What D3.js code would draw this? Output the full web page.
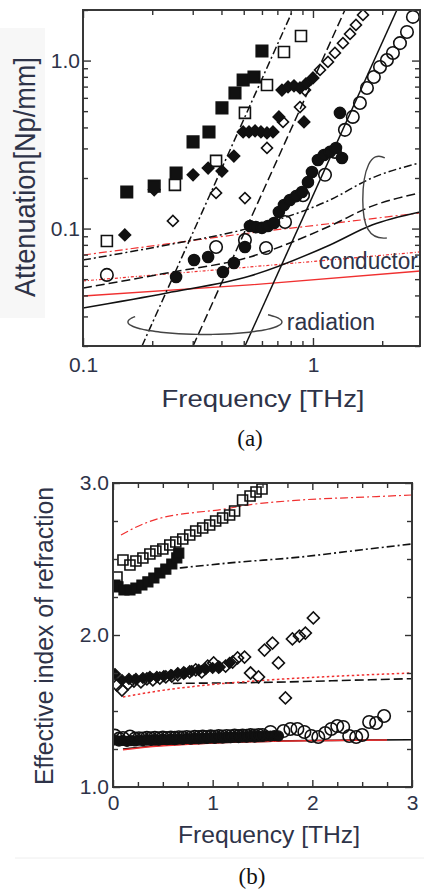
<!DOCTYPE html>
<html><head><meta charset="utf-8">
<script src="https://cdn.jsdelivr.net/npm/d3@7"></script>
<style>body{margin:0;background:#fff}svg{display:block}</style>
</head><body>
<svg id="c" width="424" height="893"></svg>
<script>
// ===================== Panel (a): attenuation vs frequency (log-log) =====================
const aXMajor = [0.1, 1];
const aXTickLabels = ["0.1", "1"];
const aXMinor = [0.2,0.3,0.4,0.5,0.6,0.7,0.8,0.9,2];
const aYMajor = [0.1, 1];
const aYTickLabels = ["0.1", "1.0"];
const aYMinor = [0.02,0.03,0.04,0.05,0.06,0.07,0.08,0.09,0.2,0.3,0.4,0.5,0.6,0.7,0.8,0.9,2];

const aFilledSquares = [[0.155,0.165],[0.204,0.179],[0.254,0.214],[0.301,0.328],[0.353,0.376],[0.402,0.523],[0.458,0.641],[0.497,0.766],[0.554,0.799],[0.600,1.14]];
const aOpenSquares = [[0.127,0.0844],[0.251,0.182],[0.379,0.253],[0.506,0.488],[0.631,0.716],[0.748,1.125],[0.887,1.40]];
const aFilledDiamonds = [[0.152,0.0916],[0.204,0.170],[0.301,0.209],[0.350,0.229],[0.402,0.220],[0.453,0.270],[0.497,0.376],[0.527,0.376],[0.560,0.381],[0.594,0.376],[0.631,0.371],[0.670,0.376],[0.711,0.462],[0.914,0.431],[0.733,0.668],[0.779,0.697],[0.827,0.707],[0.878,0.687],[0.932,0.726],[1.0,0.788]];
const aOpenDiamonds = [[0.246,0.111],[0.379,0.163],[0.506,0.152],[0.631,0.302],[0.741,0.431],[0.878,0.529],[0.923,0.668],[1.073,0.879],[1.162,0.981],[1.246,1.11],[1.35,1.27],[1.449,1.44],[1.538,1.63],[1.65,1.87]];
const aFilledCircles = [[0.254,0.0515],[0.304,0.065],[0.350,0.0678],[0.406,0.0552],[0.453,0.0624],[0.506,0.0777],[0.532,0.1036],[0.565,0.102],[0.600,0.101],[0.637,0.1036],[0.677,0.108],[0.711,0.1256],[0.748,0.138],[0.794,0.148],[0.844,0.156],[0.896,0.165],[0.951,0.189],[0.99,0.217],[1.051,0.256],[1.116,0.274],[1.185,0.286],[1.259,0.302],[1.337,0.263],[1.31,0.488]];
const aOpenCircles = [[0.127,0.053],[0.379,0.0777],[0.506,0.0855],[0.625,0.0766],[0.756,0.1095],[0.905,0.158],[1.128,0.209],[1.246,0.286],[1.377,0.387],[1.49,0.462],[1.60,0.559],[1.717,0.687],[1.84,0.799],[1.956,0.916],[2.097,1.008],[2.227,1.11],[2.389,1.27],[2.563,1.48],[2.72,1.82]];

// radiation loss lines (steep)
const aRadDashDot = [[0.1805,0.02],[0.818,2.0]];
const aRadDashed  = [[0.301,0.02],[1.377,2.0]];
const aRadSolid   = [[0.506,0.02],[2.317,2.0]];
// conductor loss lines
const aCondBlackDashDot = [[0.1,0.065],[0.232,0.0799],[0.532,0.101],[1.185,0.148],[1.805,0.200],[2.92,0.246]];
const aCondBlackDashed  = [[0.1,0.0443],[0.232,0.0544],[0.532,0.0678],[1.185,0.1036],[1.805,0.136],[2.92,0.163]];
const aCondBlackSolid   = [[0.1,0.0337],[0.232,0.0414],[0.532,0.0522],[1.185,0.0799],[1.805,0.105],[2.92,0.1256]];
const aCondRedDashDot   = [[0.1,0.0696],[0.232,0.081],[0.532,0.0942],[1.185,0.107],[2.92,0.1239]];
const aCondRedDotted    = [[0.1,0.0488],[0.532,0.0591],[2.92,0.0726]];
const aCondRedSolid     = [[0.1,0.0397],[0.532,0.0462],[2.92,0.0559]];

// ===================== Panel (b): effective index vs frequency (linear) =====================
const bXMajor = [0,1,2,3];
const bXTickLabels = ["0","1","2","3"];
const bXMinor = [0.25,0.5,0.75,1.25,1.5,1.75,2.25,2.5,2.75];
const bYMajor = [1,2,3];
const bYTickLabels = ["1.0","2.0","3.0"];
const bYMinor = [1.25,1.5,1.75,2.25,2.5,2.75];

const bOpenSquares = [[0.04,2.382],[0.10,2.493],[0.17,2.461],[0.23,2.487],[0.30,2.507],[0.37,2.533],[0.43,2.553],[0.50,2.566],[0.57,2.592],[0.63,2.612],[0.70,2.632],[0.77,2.658],[0.83,2.684],[0.90,2.704],[0.97,2.724],[1.03,2.750],[1.10,2.770],[1.17,2.789],[1.22,2.816],[1.30,2.888],[1.375,2.914],[1.435,2.941],[1.495,2.961]];
const bFilledSquares = [[0.02,2.329],[0.05,2.316],[0.11,2.296],[0.17,2.296],[0.23,2.309],[0.29,2.329],[0.35,2.349],[0.41,2.375],[0.47,2.408],[0.53,2.434],[0.59,2.467],[0.64,2.507],[0.66,2.539]];
const bOpenDiamonds = [[0.04,1.671],[0.09,1.638],[0.15,1.678],[0.21,1.697],[0.28,1.691],[0.34,1.711],[0.40,1.704],[0.47,1.717],[0.53,1.724],[0.59,1.730],[0.65,1.737],[0.71,1.750],[0.77,1.757],[0.83,1.770],[0.89,1.757],[0.95,1.796],[1.01,1.816],[1.06,1.789],[1.13,1.796],[1.20,1.822],[1.25,1.849],[1.32,1.855],[1.38,1.750],[1.46,1.724],[1.52,1.901],[1.60,1.947],[1.66,1.816],[1.73,1.586],[1.80,1.974],[1.87,1.993],[1.93,2.013],[2.01,2.112]];
const bFilledDiamonds = [[0.02,1.743],[0.09,1.704],[0.16,1.711],[0.23,1.711],[0.30,1.717],[0.37,1.724],[0.44,1.724],[0.51,1.730],[0.58,1.737],[0.65,1.750],[0.72,1.750],[0.79,1.763],[0.86,1.770],[0.93,1.776],[1.00,1.783],[1.07,1.789],[1.17,1.816]];
const bOpenCircles = [[0.02,1.338],[0.06,1.318],[0.10,1.322],[0.17,1.332],[0.22,1.318],[0.26,1.321],[0.30,1.319],[0.34,1.323],[0.38,1.320],[0.42,1.324],[0.46,1.321],[0.50,1.325],[0.54,1.322],[0.58,1.326],[0.62,1.323],[0.66,1.327],[0.70,1.325],[0.74,1.329],[0.78,1.326],[0.82,1.330],[0.86,1.328],[0.90,1.332],[0.94,1.329],[0.98,1.333],[1.02,1.331],[1.06,1.335],[1.10,1.332],[1.14,1.336],[1.18,1.334],[1.22,1.338],[1.26,1.335],[1.30,1.339],[1.34,1.337],[1.38,1.341],[1.42,1.338],[1.46,1.342],[1.50,1.342],[1.58,1.362],[1.71,1.368],[1.78,1.382],[1.85,1.382],[1.92,1.362],[1.99,1.336],[2.06,1.329],[2.13,1.355],[2.19,1.382],[2.25,1.401],[2.31,1.395],[2.37,1.336],[2.44,1.329],[2.50,1.342],[2.57,1.428],[2.64,1.421],[2.72,1.467]];
const bFilledCircles = [[0.02,1.310],[0.06,1.302],[0.10,1.306],[0.14,1.300],[0.18,1.305],[0.22,1.303],[0.26,1.308],[0.30,1.305],[0.34,1.309],[0.38,1.307],[0.42,1.311],[0.46,1.309],[0.50,1.313],[0.54,1.311],[0.58,1.315],[0.62,1.312],[0.66,1.316],[0.70,1.314],[0.74,1.318],[0.78,1.316],[0.82,1.320],[0.86,1.318],[0.90,1.322],[0.94,1.320],[0.98,1.324],[1.02,1.322],[1.06,1.326],[1.10,1.324],[1.14,1.328],[1.18,1.326],[1.22,1.330],[1.26,1.328],[1.30,1.332],[1.34,1.330],[1.38,1.334],[1.42,1.332],[1.46,1.336],[1.50,1.334],[1.54,1.337],[1.58,1.335],[1.62,1.338],[1.66,1.336]];

const bBlackDashDot = [[0.67,2.441],[1.2,2.476],[1.88,2.513],[2.5,2.561],[3.0,2.599]];
const bRedDashDot   = [[0.08,2.658],[0.28,2.724],[0.48,2.770],[0.78,2.803],[1.05,2.822],[1.35,2.855],[1.88,2.888],[2.55,2.908],[3.0,2.921]];
const bBlackDashed  = [[0.6,1.682],[1.5,1.688],[2.2,1.699],[3.0,1.713]];
const bRedDotted    = [[0.1,1.592],[0.52,1.638],[0.95,1.671],[1.56,1.704],[2.28,1.730],[3.0,1.750]];
const bBlackSolid   = [[0.1,1.25],[0.4,1.27],[0.8,1.285],[1.2,1.295],[1.6,1.302],[2.2,1.307],[3.0,1.311]];
const bRedSolid     = [[0.1,1.245],[0.4,1.266],[0.8,1.283],[1.2,1.295],[1.6,1.301],[2.2,1.306],[2.75,1.309]];

// ===================== drawing =====================
const FONT = "'Liberation Sans', Arial, Helvetica, sans-serif";
const SERIF = "'Liberation Serif', 'Times New Roman', serif";
const TXT = "#2e3348";
const INK = "#111";
const RED = "#f03030";
const svg = d3.select("#c");
const defs = svg.append("defs");

const xA = d3.scaleLog().domain([0.1, 2.92]).range([83, 420]);
const yA = d3.scaleLog().domain([0.02, 2]).range([346, 10]);
const xB = d3.scaleLinear().domain([0, 3]).range([113, 412]);
const yB = d3.scaleLinear().domain([1, 3]).range([787, 483]);

function symPath(type, px) {
  if (type === "square") return d3.symbol().type(d3.symbolSquare).size(px * px)();
  if (type === "diamond") return d3.symbol().type(d3.symbolSquare).size(px * px / 2)();
  return d3.symbol().type(d3.symbolCircle).size(Math.PI * px * px / 4)();
}
function markers(g, data, x, y, type, px, filled, sw) {
  g.append("g").selectAll("path").data(data).join("path")
    .attr("d", symPath(type, px))
    .attr("transform", d => `translate(${x(d[0])},${y(d[1])})` + (type === "diamond" ? " rotate(45)" : ""))
    .attr("fill", filled ? INK : "none")
    .attr("stroke", INK).attr("stroke-width", sw || 1.6);
}
function curve(g, data, x, y, color, width, dash, smooth) {
  const line = d3.line().x(d => x(d[0])).y(d => y(d[1]));
  if (smooth) line.curve(d3.curveMonotoneX);
  g.append("path").datum(data).attr("d", line)
    .attr("fill", "none").attr("stroke", color).attr("stroke-width", width)
    .attr("stroke-dasharray", dash || null);
}
function ticks(g, axisFn, scale, values, size, translate, labels, pad, fs) {
  const a = g.append("g").attr("transform", translate)
    .call(axisFn(scale).tickValues(values).tickSize(-size).tickPadding(pad || 3)
      .tickFormat(labels ? (d => labels[values.indexOf(d)]) : (() => "")));
  a.select(".domain").remove();
  a.selectAll("line").attr("stroke", "#333").attr("stroke-width", 1.4);
  a.selectAll("text").attr("font-family", FONT).attr("font-size", fs || 21).attr("fill", TXT);
  return a;
}
function frame(g, x, y) {
  g.append("rect").attr("x", x.range()[0]).attr("y", y.range()[1])
    .attr("width", x.range()[1] - x.range()[0]).attr("height", y.range()[0] - y.range()[1])
    .attr("fill", "none").attr("stroke", "#383838").attr("stroke-width", 2);
}

// ---------- panel (a) ----------
svg.append("rect").attr("x", 0).attr("y", 28).attr("width", 45).attr("height", 290).attr("fill", "#f7f7f7");
const gA = svg.append("g");
defs.append("clipPath").attr("id", "clipA").append("rect")
  .attr("x", 83).attr("y", 10).attr("width", 337).attr("height", 336);
const pA = gA.append("g").attr("clip-path", "url(#clipA)");

const DD = "8,3,2,3", DA = "9,4", DOT = "2.5,2.5";
curve(pA, aCondRedDashDot, xA, yA, RED, 1.2, DD, true);
curve(pA, aCondRedDotted, xA, yA, RED, 1.2, "3,2,1,2", true);
curve(pA, aCondRedSolid, xA, yA, RED, 1.4, null, true);
curve(pA, aCondBlackDashDot, xA, yA, INK, 1.5, DD, true);
curve(pA, aCondBlackDashed, xA, yA, INK, 1.5, DA, true);
curve(pA, aCondBlackSolid, xA, yA, INK, 1.5, null, true);
curve(pA, aRadDashDot, xA, yA, INK, 1.5, DD);
curve(pA, aRadDashed, xA, yA, INK, 1.5, DA);
curve(pA, aRadSolid, xA, yA, INK, 1.5, null);

markers(pA, aOpenCircles, xA, yA, "circle", 12.5, false);
markers(pA, aOpenDiamonds, xA, yA, "diamond", 11, false);
markers(pA, aOpenSquares, xA, yA, "square", 11, false);
markers(pA, aFilledCircles, xA, yA, "circle", 11, true);
markers(pA, aFilledDiamonds, xA, yA, "diamond", 11.5, true);
markers(pA, aFilledSquares, xA, yA, "square", 11.5, true);

// annotations (anchored through the scales)
{
  const cx = xA(0.339), cy = yA(0.0278), rx = 77, ry = 12.5;
  const pts = d3.range(205, -36, -5).map(a => [cx + rx * Math.cos(a * Math.PI / 180), cy + ry * Math.sin(a * Math.PI / 180)]);
  gA.append("path").attr("d", d3.line().curve(d3.curveCatmullRom)(pts))
    .attr("fill", "none").attr("stroke", "#444").attr("stroke-width", 1.4);
  gA.append("text").attr("x", xA(0.77)).attr("y", yA(0.0249)).text("radiation")
    .attr("font-family", FONT).attr("font-size", 23).attr("fill", TXT);
  const bx = xA(1.68), by = yA(0.148);
  gA.append("path")
    .attr("d", `M${bx + 20},${by - 42} C${bx + 6},${by - 50} ${bx - 2},${by - 30} ${bx - 2},${by} C${bx - 2},${by + 26} ${bx + 4},${by + 40} ${bx + 22},${by + 38}`)
    .attr("fill", "none").attr("stroke", "#444").attr("stroke-width", 1.4);
  gA.append("text").attr("x", xA(1.06)).attr("y", yA(0.0575)).text("conductor")
    .attr("font-family", FONT).attr("font-size", 23).attr("fill", TXT)
    .attr("textLength", 99).attr("lengthAdjust", "spacingAndGlyphs");
}

frame(gA, xA, yA);
ticks(gA, d3.axisBottom, xA, aXMinor, 5, `translate(0,346)`);
ticks(gA, d3.axisBottom, xA, aXMajor, 8, `translate(0,346)`, aXTickLabels, 11, 21);
ticks(gA, d3.axisTop, xA, aXMinor, 5, `translate(0,10)`);
ticks(gA, d3.axisTop, xA, aXMajor, 8, `translate(0,10)`);
ticks(gA, d3.axisLeft, yA, aYMinor, 5, `translate(83,0)`);
ticks(gA, d3.axisLeft, yA, aYMajor, 8, `translate(83,0)`, aYTickLabels, 3, 21);
ticks(gA, d3.axisRight, yA, aYMinor, 5, `translate(420,0)`);
ticks(gA, d3.axisRight, yA, aYMajor, 8, `translate(420,0)`);

gA.append("text").attr("x", 263).attr("y", 407).attr("text-anchor", "middle")
  .attr("font-family", FONT).attr("font-size", 24).attr("fill", TXT)
  .attr("textLength", 203).attr("lengthAdjust", "spacingAndGlyphs").text("Frequency [THz]");
gA.append("text").attr("transform", "translate(35,177) rotate(-90) scale(1,1.1)").attr("text-anchor", "middle")
  .attr("font-family", FONT).attr("font-size", 26).attr("fill", TXT)
  .attr("textLength", 240).attr("lengthAdjust", "spacingAndGlyphs").text("Attenuation[Np/mm]");
svg.append("text").attr("x", 250).attr("y", 446).attr("text-anchor", "middle")
  .attr("font-family", SERIF).attr("font-size", 23).attr("fill", "#111").text("(a)");

// ---------- panel (b) ----------
const gB = svg.append("g");
defs.append("clipPath").attr("id", "clipB").append("rect")
  .attr("x", 113).attr("y", 483).attr("width", 299).attr("height", 304);
const pB = gB.append("g").attr("clip-path", "url(#clipB)");

curve(pB, bBlackDashDot, xB, yB, INK, 1.6, DD, true);
curve(pB, bRedDashDot, xB, yB, RED, 1.2, DD, true);
curve(pB, bBlackDashed, xB, yB, INK, 1.6, DA, true);
curve(pB, bRedDotted, xB, yB, RED, 1.5, DOT, true);
curve(pB, bBlackSolid, xB, yB, INK, 1.6, null, true);
curve(pB, bRedSolid, xB, yB, RED, 1.6, null, true);

markers(pB, bFilledCircles, xB, yB, "circle", 10, true, 1.2);
markers(pB, bOpenCircles, xB, yB, "circle", 12.5, false);
markers(pB, bFilledDiamonds, xB, yB, "diamond", 11, true, 1.2);
markers(pB, bOpenDiamonds, xB, yB, "diamond", 12, false);
markers(pB, bFilledSquares, xB, yB, "square", 10, true, 1.2);
markers(pB, bOpenSquares, xB, yB, "square", 10, false);

frame(gB, xB, yB);
ticks(gB, d3.axisBottom, xB, bXMinor, 5, `translate(0,787)`);
ticks(gB, d3.axisBottom, xB, bXMajor, 7, `translate(0,787)`, bXTickLabels, 8, 21);
ticks(gB, d3.axisTop, xB, bXMinor, 5, `translate(0,483)`);
ticks(gB, d3.axisTop, xB, bXMajor, 7, `translate(0,483)`);
ticks(gB, d3.axisLeft, yB, bYMinor, 5, `translate(113,0)`);
ticks(gB, d3.axisLeft, yB, bYMajor, 7, `translate(113,0)`, bYTickLabels, 4, 21);
ticks(gB, d3.axisRight, yB, bYMinor, 5, `translate(412,0)`);
ticks(gB, d3.axisRight, yB, bYMajor, 7, `translate(412,0)`);

gB.append("text").attr("x", 269).attr("y", 843).attr("text-anchor", "middle")
  .attr("font-family", FONT).attr("font-size", 24).attr("fill", TXT)
  .attr("textLength", 182).attr("lengthAdjust", "spacingAndGlyphs").text("Frequency [THz]");
gB.append("text").attr("transform", "translate(53,636) rotate(-90)").attr("text-anchor", "middle")
  .attr("font-family", FONT).attr("font-size", 25).attr("fill", TXT)
  .attr("textLength", 298).attr("lengthAdjust", "spacingAndGlyphs").text("Effective index of refraction");
svg.append("line").attr("x1", 15).attr("x2", 424).attr("y1", 858).attr("y2", 858)
  .attr("stroke", "#eeeeee").attr("stroke-width", 1);
svg.append("text").attr("x", 252).attr("y", 884).attr("text-anchor", "middle")
  .attr("font-family", SERIF).attr("font-size", 23).attr("fill", "#111").text("(b)");
</script>
</body></html>
